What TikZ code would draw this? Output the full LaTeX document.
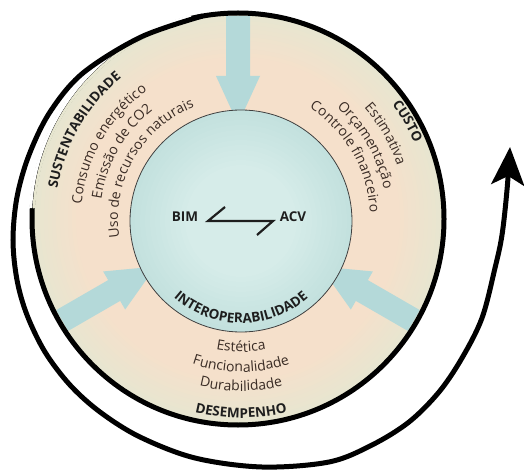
\documentclass[tikz,border=0pt]{standalone}
\usepackage{fontspec}
\setmainfont{Open Sans}
\usetikzlibrary{decorations.text,arrows.meta,calc}
\definecolor{peach}{HTML}{F5E0CB}
\definecolor{rimc}{HTML}{E7E6D0}
\definecolor{innerA}{HTML}{D6ECE9}
\definecolor{innerB}{HTML}{C3E1DE}
\definecolor{arrowc}{HTML}{B4D9D9}
\definecolor{txt}{HTML}{3A2C25}
\definecolor{head}{HTML}{1E1E1E}
\newcommand\hdfont{\fontsize{13.5}{16}\selectfont\bfseries}
\newcommand\txfont{\fontsize{14}{17}\selectfont}
\tikzset{
  hdtext/.style={decorate, decoration={text along path, text align=center, text color=head, text={|\hdfont|#1}}},
  lntext/.style={decorate, decoration={text along path, text align=center, text color=txt, text={|\txfont|#1}}},
  inarrow/.style={fill=arrowc},
  borderline/.style={line width=5pt, draw=black},
  spiralline/.style={line width=5pt, draw=black, -{Stealth[length=38pt, width=33pt, inset=9pt]}},
}
\begin{document}
\begin{tikzpicture}[x=1pt,y=1pt]
\useasboundingbox (0,0) rectangle (524,-470);
\coordinate (C) at (238,-219);
\coordinate (I) at (241,-221);
% outer disk (soft rim built from rings)
\foreach \i [evaluate=\i as \r using 206-4*\i, evaluate=\i as \p using int(9*\i)] in {0,...,11}{
  \fill[peach!\p!rimc] (C) circle[radius=\r];
}
\fill[peach] (C) circle[radius=162];
% inward arrows
\foreach \a in {90,210,330}{
  \fill[inarrow, shift={(C)}, rotate=\a] (203,12) -- (143,12) -- (143,22) -- (95,0) -- (143,-22) -- (143,-12) -- (203,-12) -- cycle;
}
% inner disk
\foreach \i [evaluate=\i as \r using 111-5*\i, evaluate=\i as \p using int(9*\i)] in {0,...,11}{
  \fill[innerA!\p!innerB] (I) circle[radius=\r];
}
\draw[line width=0.8pt, black!75] (I) circle[radius=111];
% left texts
\path[hdtext={SUSTENTABILIDADE}] ($(C)+(210:183)$) arc[start angle=210, end angle=90, radius=183];
\path[lntext={Consumo energético}] ($(C)+(210:157)$) arc[start angle=210, end angle=90, radius=157];
\path[lntext={Emissão de CO2}] ($(C)+(210:138)$) arc[start angle=210, end angle=90, radius=138];
\path[lntext={Uso de recursos naturais}] ($(C)+(210:120)$) arc[start angle=210, end angle=90, radius=120];
% right texts
\path[hdtext={CUSTO}] ($(C)+(90:192)$) arc[start angle=90, end angle=-30, radius=192];
\path[lntext={Estimativa}] ($(C)+(90:168)$) arc[start angle=90, end angle=-30, radius=168];
\path[lntext={Orçamentação}] ($(C)+(90:149)$) arc[start angle=90, end angle=-30, radius=149];
\path[lntext={Controle financeiro}] ($(C)+(90:132)$) arc[start angle=90, end angle=-30, radius=132];
% bottom texts
\path[lntext={Estética}] ($(I)+(210:131)$) arc[start angle=210, end angle=330, radius=131];
\path[lntext={Funcionalidade}] ($(I)+(210:151)$) arc[start angle=210, end angle=330, radius=151];
\path[lntext={Durabilidade}] ($(I)+(210:170)$) arc[start angle=210, end angle=330, radius=170];
\path[hdtext={DESEMPENHO}] ($(I)+(210:197)$) arc[start angle=210, end angle=330, radius=197];
\path[hdtext={INTEROPERABILIDADE}] ($(I)+(200:102)$) arc[start angle=200, end angle=340, radius=102];
% center
\node[font=\hdfont, text=head] (bim) at (185,-217) {BIM};
\node[font=\hdfont, text=head] (acv) at (293,-217) {ACV};
\coordinate (h1) at (225,-207);
\coordinate (h2) at (208,-221);
\coordinate (h3) at (273,-221);
\coordinate (h4) at (257,-235);
\draw[line width=2.2pt, head] (h1) -- (h2) -- (h3) -- (h4);
% spiral, first turn: the disk border (left -> bottom -> right -> top)
\draw[borderline] (C) circle[radius=206];
\draw[white, line width=3pt] ($(C)+(103:207.6)$) arc[start angle=103, end angle=177, radius=207.6];
\draw[rimc, line width=2.6pt] ($(C)+(103:204.4)$) arc[start angle=103, end angle=177, radius=204.4];
% spiral, second turn: outward to the arrowhead
\draw[spiralline] plot[smooth, tension=0.55] coordinates {(202.2,-16.1) (141,-37) (83,-73) (50,-112) (29,-155) (17,-197) (13,-240) (17,-280) (27,-315) (45,-352) (70,-385) (100,-412) (140,-437) (195,-458) (262,-467) (329,-462) (372,-445) (409,-422) (439,-392) (462,-358) (482,-318) (495,-268) (502,-235) (507,-190) (510,-147)};
\end{tikzpicture}
\end{document}
